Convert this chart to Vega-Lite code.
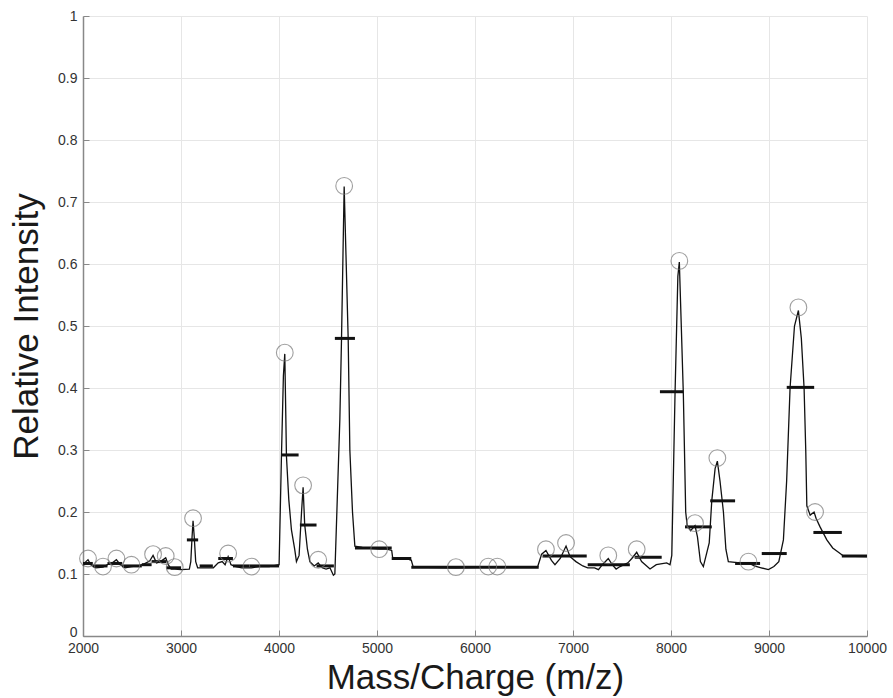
{
  "$schema": "https://vega.github.io/schema/vega-lite/v6.json",
  "width": 784,
  "height": 620,
  "autosize": "none",
  "padding": {"left": 83, "top": 16, "right": 26, "bottom": 62},
  "background": "white",
  "config": {
    "view": {"stroke": null},
    "axis": {
      "labelFont": "Liberation Sans, sans-serif",
      "titleFont": "Liberation Sans, sans-serif",
      "labelColor": "#333",
      "titleColor": "#1a1a1a",
      "labelFontSize": 14,
      "titleFontSize": 35,
      "titleFontWeight": "normal",
      "domainColor": "#888",
      "domainWidth": 1.5,
      "tickColor": "#888",
      "tickSize": -6,
      "gridColor": "#e6e6e6",
      "gridWidth": 1,
      "labelFlush": false
    }
  },
  "datasets": {
    "spectrum": [
      {"mz": 2000, "intensity": 0.113}, {"mz": 2030, "intensity": 0.12}, {"mz": 2051, "intensity": 0.123}, {"mz": 2080, "intensity": 0.115},
      {"mz": 2130, "intensity": 0.11}, {"mz": 2204, "intensity": 0.111}, {"mz": 2260, "intensity": 0.116}, {"mz": 2300, "intensity": 0.118},
      {"mz": 2341, "intensity": 0.123}, {"mz": 2380, "intensity": 0.115}, {"mz": 2430, "intensity": 0.11}, {"mz": 2494, "intensity": 0.112},
      {"mz": 2560, "intensity": 0.113}, {"mz": 2620, "intensity": 0.116}, {"mz": 2680, "intensity": 0.121}, {"mz": 2715, "intensity": 0.13},
      {"mz": 2750, "intensity": 0.118}, {"mz": 2790, "intensity": 0.12}, {"mz": 2844, "intensity": 0.126}, {"mz": 2870, "intensity": 0.115},
      {"mz": 2900, "intensity": 0.108}, {"mz": 2936, "intensity": 0.108}, {"mz": 3000, "intensity": 0.107}, {"mz": 3085, "intensity": 0.108},
      {"mz": 3100, "intensity": 0.12}, {"mz": 3113, "intensity": 0.16}, {"mz": 3123, "intensity": 0.186}, {"mz": 3135, "intensity": 0.16},
      {"mz": 3150, "intensity": 0.12}, {"mz": 3170, "intensity": 0.11}, {"mz": 3250, "intensity": 0.11}, {"mz": 3330, "intensity": 0.11},
      {"mz": 3380, "intensity": 0.118}, {"mz": 3420, "intensity": 0.12}, {"mz": 3450, "intensity": 0.115}, {"mz": 3481, "intensity": 0.128},
      {"mz": 3510, "intensity": 0.115}, {"mz": 3560, "intensity": 0.112}, {"mz": 3620, "intensity": 0.11}, {"mz": 3719, "intensity": 0.11},
      {"mz": 3800, "intensity": 0.112}, {"mz": 3900, "intensity": 0.112}, {"mz": 4001, "intensity": 0.115}, {"mz": 4025, "intensity": 0.29},
      {"mz": 4045, "intensity": 0.42}, {"mz": 4059, "intensity": 0.455}, {"mz": 4070, "intensity": 0.35}, {"mz": 4076, "intensity": 0.29},
      {"mz": 4100, "intensity": 0.22}, {"mz": 4127, "intensity": 0.171}, {"mz": 4160, "intensity": 0.14}, {"mz": 4178, "intensity": 0.12},
      {"mz": 4205, "intensity": 0.13}, {"mz": 4230, "intensity": 0.2}, {"mz": 4246, "intensity": 0.24}, {"mz": 4262, "intensity": 0.18},
      {"mz": 4290, "intensity": 0.14}, {"mz": 4315, "intensity": 0.12}, {"mz": 4360, "intensity": 0.113}, {"mz": 4400, "intensity": 0.118},
      {"mz": 4440, "intensity": 0.11}, {"mz": 4480, "intensity": 0.108}, {"mz": 4520, "intensity": 0.11}, {"mz": 4555, "intensity": 0.098},
      {"mz": 4570, "intensity": 0.1}, {"mz": 4621, "intensity": 0.35}, {"mz": 4638, "intensity": 0.48}, {"mz": 4665, "intensity": 0.725},
      {"mz": 4706, "intensity": 0.48}, {"mz": 4723, "intensity": 0.3}, {"mz": 4750, "intensity": 0.2}, {"mz": 4774, "intensity": 0.145},
      {"mz": 4850, "intensity": 0.143}, {"mz": 4950, "intensity": 0.141}, {"mz": 5022, "intensity": 0.14}, {"mz": 5100, "intensity": 0.14},
      {"mz": 5150, "intensity": 0.138}, {"mz": 5160, "intensity": 0.126}, {"mz": 5300, "intensity": 0.125}, {"mz": 5350, "intensity": 0.122},
      {"mz": 5370, "intensity": 0.111}, {"mz": 5800, "intensity": 0.11}, {"mz": 6135, "intensity": 0.111}, {"mz": 6227, "intensity": 0.111},
      {"mz": 6640, "intensity": 0.112}, {"mz": 6680, "intensity": 0.132}, {"mz": 6724, "intensity": 0.138}, {"mz": 6780, "intensity": 0.122},
      {"mz": 6816, "intensity": 0.115}, {"mz": 6870, "intensity": 0.125}, {"mz": 6929, "intensity": 0.145}, {"mz": 6970, "intensity": 0.128},
      {"mz": 7030, "intensity": 0.12}, {"mz": 7100, "intensity": 0.113}, {"mz": 7150, "intensity": 0.11}, {"mz": 7220, "intensity": 0.11},
      {"mz": 7260, "intensity": 0.107}, {"mz": 7300, "intensity": 0.115}, {"mz": 7360, "intensity": 0.125}, {"mz": 7400, "intensity": 0.115},
      {"mz": 7440, "intensity": 0.108}, {"mz": 7480, "intensity": 0.112}, {"mz": 7560, "intensity": 0.118}, {"mz": 7600, "intensity": 0.125},
      {"mz": 7650, "intensity": 0.135}, {"mz": 7700, "intensity": 0.12}, {"mz": 7786, "intensity": 0.108}, {"mz": 7850, "intensity": 0.115},
      {"mz": 7956, "intensity": 0.118}, {"mz": 7990, "intensity": 0.115}, {"mz": 8008, "intensity": 0.13}, {"mz": 8041, "intensity": 0.39},
      {"mz": 8070, "intensity": 0.58}, {"mz": 8085, "intensity": 0.603}, {"mz": 8105, "intensity": 0.5}, {"mz": 8126, "intensity": 0.39},
      {"mz": 8150, "intensity": 0.2}, {"mz": 8165, "intensity": 0.178}, {"mz": 8200, "intensity": 0.17}, {"mz": 8245, "intensity": 0.178},
      {"mz": 8270, "intensity": 0.16}, {"mz": 8300, "intensity": 0.12}, {"mz": 8330, "intensity": 0.112}, {"mz": 8390, "intensity": 0.15},
      {"mz": 8416, "intensity": 0.218}, {"mz": 8450, "intensity": 0.27}, {"mz": 8473, "intensity": 0.282}, {"mz": 8500, "intensity": 0.25},
      {"mz": 8535, "intensity": 0.2}, {"mz": 8560, "intensity": 0.14}, {"mz": 8585, "intensity": 0.12}, {"mz": 8700, "intensity": 0.118},
      {"mz": 8790, "intensity": 0.118}, {"mz": 8850, "intensity": 0.113}, {"mz": 8920, "intensity": 0.11}, {"mz": 8994, "intensity": 0.107},
      {"mz": 9050, "intensity": 0.112}, {"mz": 9100, "intensity": 0.12}, {"mz": 9147, "intensity": 0.155}, {"mz": 9180, "intensity": 0.25},
      {"mz": 9215, "intensity": 0.4}, {"mz": 9260, "intensity": 0.5}, {"mz": 9300, "intensity": 0.525}, {"mz": 9330, "intensity": 0.48},
      {"mz": 9358, "intensity": 0.4}, {"mz": 9375, "intensity": 0.3}, {"mz": 9386, "intensity": 0.21}, {"mz": 9420, "intensity": 0.195},
      {"mz": 9460, "intensity": 0.2}, {"mz": 9480, "intensity": 0.19}, {"mz": 9521, "intensity": 0.176}, {"mz": 9590, "intensity": 0.155},
      {"mz": 9650, "intensity": 0.142}, {"mz": 9726, "intensity": 0.133}, {"mz": 9760, "intensity": 0.129}, {"mz": 10000, "intensity": 0.128}
    ],
    "steps": [
      {"start": 2000, "end": 2100, "level": 0.117}, {"start": 2100, "end": 2250, "level": 0.113}, {"start": 2250, "end": 2400, "level": 0.117},
      {"start": 2400, "end": 2600, "level": 0.113}, {"start": 2600, "end": 2700, "level": 0.115}, {"start": 2700, "end": 2850, "level": 0.12},
      {"start": 2850, "end": 3000, "level": 0.11}, {"start": 3060, "end": 3175, "level": 0.155}, {"start": 3190, "end": 3325, "level": 0.113},
      {"start": 3380, "end": 3530, "level": 0.125}, {"start": 3530, "end": 3700, "level": 0.113}, {"start": 3700, "end": 4000, "level": 0.113},
      {"start": 4030, "end": 4200, "level": 0.292}, {"start": 4213, "end": 4383, "level": 0.179}, {"start": 4383, "end": 4560, "level": 0.113},
      {"start": 4570, "end": 4775, "level": 0.48}, {"start": 4775, "end": 5150, "level": 0.142}, {"start": 5150, "end": 5350, "level": 0.125},
      {"start": 5350, "end": 6650, "level": 0.111}, {"start": 6690, "end": 7140, "level": 0.129}, {"start": 7150, "end": 7580, "level": 0.115},
      {"start": 7630, "end": 7905, "level": 0.127}, {"start": 7887, "end": 8126, "level": 0.394}, {"start": 8143, "end": 8416, "level": 0.176},
      {"start": 8400, "end": 8654, "level": 0.218}, {"start": 8654, "end": 8909, "level": 0.117}, {"start": 8926, "end": 9181, "level": 0.133},
      {"start": 9181, "end": 9461, "level": 0.401}, {"start": 9453, "end": 9743, "level": 0.167}, {"start": 9743, "end": 10000, "level": 0.129}
    ],
    "peaks": [
      {"mz": 2051, "intensity": 0.125}, {"mz": 2204, "intensity": 0.112}, {"mz": 2341, "intensity": 0.125}, {"mz": 2494, "intensity": 0.115},
      {"mz": 2715, "intensity": 0.132}, {"mz": 2844, "intensity": 0.129}, {"mz": 2936, "intensity": 0.111}, {"mz": 3123, "intensity": 0.19},
      {"mz": 3481, "intensity": 0.133}, {"mz": 3719, "intensity": 0.112}, {"mz": 4059, "intensity": 0.457}, {"mz": 4246, "intensity": 0.243},
      {"mz": 4400, "intensity": 0.123}, {"mz": 4665, "intensity": 0.726}, {"mz": 5022, "intensity": 0.14}, {"mz": 5805, "intensity": 0.111},
      {"mz": 6135, "intensity": 0.112}, {"mz": 6227, "intensity": 0.112}, {"mz": 6724, "intensity": 0.14}, {"mz": 6929, "intensity": 0.15},
      {"mz": 7360, "intensity": 0.13}, {"mz": 7650, "intensity": 0.14}, {"mz": 8085, "intensity": 0.605}, {"mz": 8245, "intensity": 0.182},
      {"mz": 8473, "intensity": 0.287}, {"mz": 8790, "intensity": 0.12}, {"mz": 9300, "intensity": 0.53}, {"mz": 9470, "intensity": 0.2}
    ]
  },
  "layer": [
    {
      "data": {"name": "spectrum"},
      "mark": {"type": "line", "color": "#111", "strokeWidth": 1.3},
      "encoding": {
        "x": {
          "field": "mz", "type": "quantitative",
          "scale": {"domain": [2000, 10000], "nice": false, "zero": false},
          "axis": {
            "values": [2000, 3000, 4000, 5000, 6000, 7000, 8000, 9000, 10000],
            "format": "d",
            "title": "Mass/Charge (m/z)",
            "titleX": 392, "titleY": 52, "titleAlign": "center", "titleBaseline": "alphabetic",
            "labelPadding": 11
          }
        },
        "y": {
          "field": "intensity", "type": "quantitative",
          "scale": {"domain": [0, 1], "nice": false},
          "axis": {
            "values": [0, 0.1, 0.2, 0.3, 0.4, 0.5, 0.6, 0.7, 0.8, 0.9, 1],
            "labelExpr": "datum.value == 0 ? '0' : datum.value == 1 ? '1' : format(datum.value, '.1f')",
            "labelBaseline": {"condition": {"test": "datum.value == 0", "value": "alphabetic"}, "value": "middle"},
            "title": "Relative Intensity",
            "titleX": -46, "titleY": 310, "titleAngle": -90, "titleAlign": "center", "titleBaseline": "alphabetic",
            "labelPadding": 12
          }
        }
      }
    },
    {
      "data": {"name": "steps"},
      "mark": {"type": "rule", "color": "#111", "strokeWidth": 3},
      "encoding": {
        "x": {"field": "start", "type": "quantitative"},
        "x2": {"field": "end"},
        "y": {"field": "level", "type": "quantitative"}
      }
    },
    {
      "data": {"name": "peaks"},
      "mark": {"type": "point", "shape": "circle", "filled": false, "stroke": "#777", "strokeWidth": 1.1, "size": 280},
      "encoding": {
        "x": {"field": "mz", "type": "quantitative"},
        "y": {"field": "intensity", "type": "quantitative"}
      }
    }
  ]
}
